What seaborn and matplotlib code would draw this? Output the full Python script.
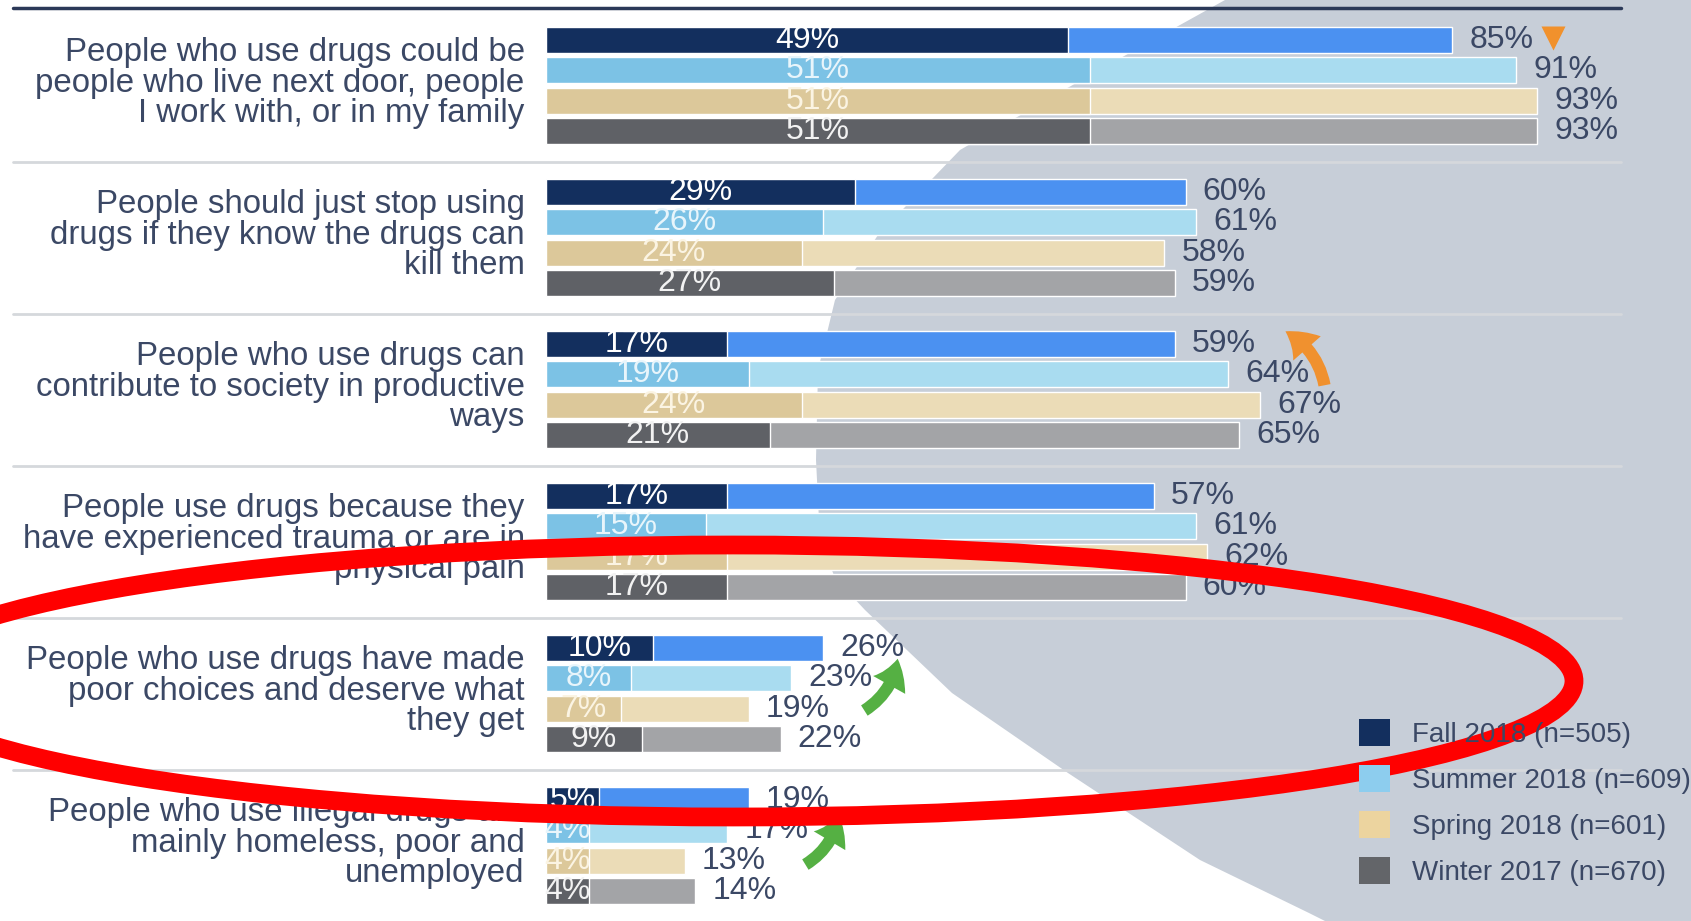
import pandas as pd
import seaborn as sns
import matplotlib.pyplot as plt
from matplotlib.patches import Polygon, Ellipse, FancyArrowPatch, Patch

# --- data ---
statements = [
    "People who use drugs could be\npeople who live next door, people\nI work with, or in my family",
    "People should just stop using\ndrugs if they know the drugs can\nkill them",
    "People who use drugs can\ncontribute to society in productive\nways",
    "People use drugs because they\nhave experienced trauma or are in\nphysical pain",
    "People who use drugs have made\npoor choices and deserve what\nthey get",
    "People who use illegal drugs are\nmainly homeless, poor and\nunemployed",
]
seasons = ["Fall 2018 (n=505)", "Summer 2018 (n=609)",
           "Spring 2018 (n=601)", "Winter 2017 (n=670)"]

fall_strong = [49, 29, 17, 17, 10, 5]
fall_total = [85, 60, 59, 57, 26, 19]
summer_strong = [51, 26, 19, 15, 8, 4]
summer_total = [91, 61, 64, 61, 23, 17]
spring_strong = [51, 24, 24, 17, 7, 4]
spring_total = [93, 58, 67, 62, 19, 13]
winter_strong = [51, 27, 21, 17, 9, 4]
winter_total = [93, 59, 65, 60, 22, 14]

dark_colors = ["#132f5e", "#7cc2e5", "#dcc89a", "#5f6166"]
light_colors = ["#4b91f1", "#a9dcf0", "#ebdcb7", "#a3a4a7"]
inner_text_colors = ["#ffffff", "#e8f5fb", "#fbf4e3", "#f2f2f2"]
legend_colors = ["#132f5e", "#8dcdee", "#ecd49f", "#636569"]
TEXT = "#3b4865"

strong_by_season = [fall_strong, summer_strong, spring_strong, winter_strong]
total_by_season = [fall_total, summer_total, spring_total, winter_total]

rows = []
for gi, st in enumerate(statements):
    for si, season in enumerate(seasons):
        rows.append({"statement": st, "season": season, "si": si,
                     "pos": gi * 5 + si,
                     "strong": strong_by_season[si][gi],
                     "total": total_by_season[si][gi]})
df = pd.DataFrame(rows)

# --- geometry (pixels of the 1691x921 canvas) ---
W, H = 1691, 921
BAR_X0 = 546
PX_PER_PCT = 10.66
ROW_Y0 = 40
ROW_PX = 30.4

sns.set_theme(style="white")
plt.rcParams["font.family"] = ["Liberation Sans", "DejaVu Sans"]

fig = plt.figure(figsize=(W / 100, H / 100), dpi=100)
fig.patch.set_facecolor("white")

# background decoration axes in pixel coordinates
bg = fig.add_axes([0, 0, 1, 1], zorder=0)
bg.set_xlim(0, W)
bg.set_ylim(H, 0)
bg.axis("off")
shape = [(1225, 0), (1090, 75), (960, 150), (878, 235), (835, 300), (818, 370),
         (816, 460), (820, 540), (835, 578), (865, 610), (952, 693),
         (1068, 773), (1200, 860), (1309, 913), (1325, 921), (W, H), (W, 0)]
bg.add_patch(Polygon(shape, closed=True, facecolor="#c7ced8", edgecolor="none"))

# bar axes
ax = fig.add_axes([BAR_X0 / W, 0, 1 - BAR_X0 / W, 1], zorder=1)
ax.patch.set_alpha(0)

sns.barplot(data=df, x="total", y="pos", hue="season", hue_order=seasons,
            palette=light_colors, orient="h", native_scale=True, dodge=False,
            width=0.85, errorbar=None, legend=False, saturation=1, ax=ax)
sns.barplot(data=df, x="strong", y="pos", hue="season", hue_order=seasons,
            palette=dark_colors, orient="h", native_scale=True, dodge=False,
            width=0.85, errorbar=None, legend=False, saturation=1, ax=ax)

ax.set_xlim(0, (W - BAR_X0) / PX_PER_PCT)
ax.set_ylim((H - ROW_Y0) / ROW_PX, -ROW_Y0 / ROW_PX)
ax.axis("off")

for _, r in df.iterrows():
    ax.text(r["strong"] / 2, r["pos"], f"{r['strong']}%", ha="center",
            va="center", fontsize=23, color=inner_text_colors[r["si"]])
    ax.text(r["total"] + 1.6, r["pos"], f"{r['total']}%", ha="left",
            va="center", fontsize=23, color=TEXT)

x_left = (13 - BAR_X0) / PX_PER_PCT
x_right = (1621 - BAR_X0) / PX_PER_PCT
for gi, st in enumerate(statements):
    ax.text(-2.0, gi * 5 + 1.42, st, ha="right", va="center",
            multialignment="right", fontsize=23.8, color=TEXT, linespacing=0.98)
    if gi > 0:
        ax.plot([x_left, x_right], [gi * 5 - 1, gi * 5 - 1], color="#d5d8dc",
                lw=2, clip_on=False, zorder=0.5)
ax.plot([x_left, x_right], [-1.05, -1.05], color="#2b3958", lw=2.5,
        clip_on=False)

# legend
handles = [Patch(facecolor=c, edgecolor="none") for c in legend_colors]
fig.legend(handles, seasons, loc="upper left",
           bbox_to_anchor=(1359 / W, 1 - 719 / H), frameon=False,
           fontsize=20, handlelength=1.1, handleheight=1.1,
           labelspacing=0.62, handletextpad=0.8, borderpad=0,
           borderaxespad=0, labelcolor=TEXT)

# overlay annotations
top = fig.add_axes([0, 0, 1, 1], zorder=5)
top.set_xlim(0, W)
top.set_ylim(H, 0)
top.axis("off")
top.plot([1553], [38], marker="v", ms=17, color="#f1912c", mec="none")
top.add_patch(FancyArrowPatch((1325, 388), (1283, 330),
                              connectionstyle="arc3,rad=0.25",
                              arrowstyle="simple,head_length=0.9,head_width=1.2,tail_width=0.4",
                              mutation_scale=22, color="#f0912f", lw=0))
for tail, head in [((862, 712), (898, 656)), ((803, 866), (839, 812))]:
    top.add_patch(FancyArrowPatch(tail, head,
                                  connectionstyle="arc3,rad=0.25",
                                  arrowstyle="simple,head_length=0.9,head_width=1.2,tail_width=0.4",
                                  mutation_scale=22, color="#55b043", lw=0))
top.add_patch(Ellipse((733, 681), width=2 * 841, height=2 * 136, fill=False,
                      edgecolor="#ff0000", lw=13.5))

fig.savefig("out.png", dpi=100, facecolor="white")
